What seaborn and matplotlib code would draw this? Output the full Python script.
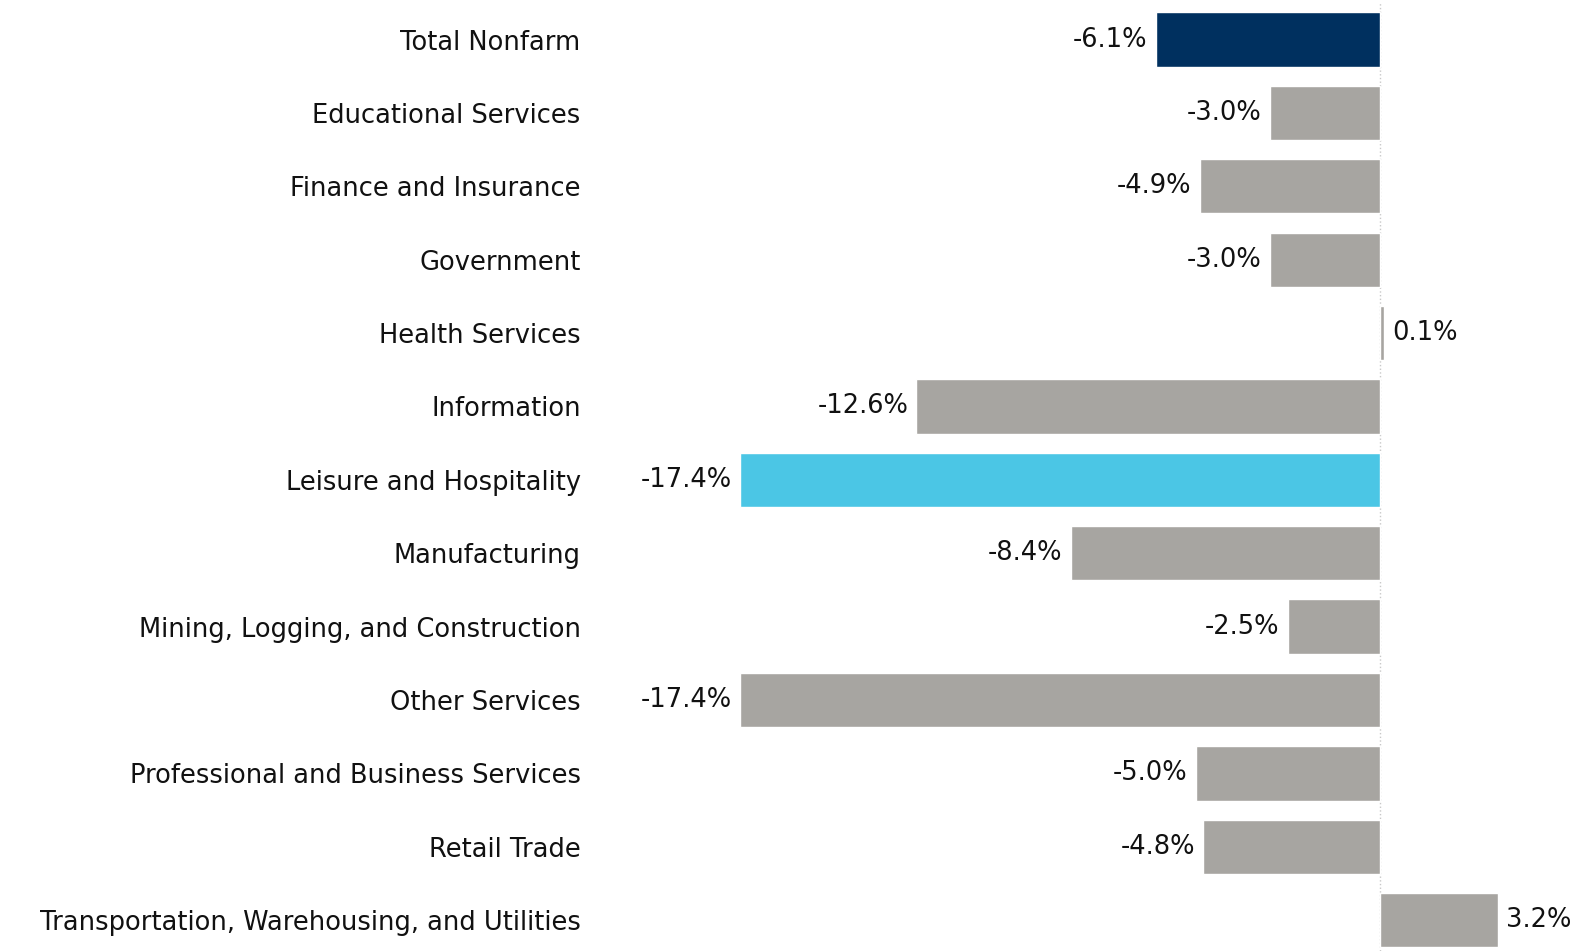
import matplotlib.pyplot as plt
import seaborn as sns
import pandas as pd

# Datos
categorias = [
    'Total Nonfarm', 'Educational Services', 'Finance and Insurance', 'Government',
    'Health Services', 'Information', 'Leisure and Hospitality', 'Manufacturing',
    'Mining, Logging, and Construction', 'Other Services',
    'Professional and Business Services', 'Retail Trade',
    'Transportation, Warehousing, and Utilities',
]
cambio = [-6.1, -3.0, -4.9, -3.0, 0.1, -12.6, -17.4, -8.4, -2.5, -17.4, -5.0, -4.8, 3.2]

azul = '#00305f'
cian = '#4bc6e5'
gris = '#a7a5a1'
colores = [azul if c == 'Total Nonfarm' else cian if c == 'Leisure and Hospitality' else gris
           for c in categorias]

df = pd.DataFrame({'Categoria': categorias, 'Cambio': cambio})

sns.set_style('white')
plt.rcParams['font.family'] = ['DejaVu Sans']

fig = plt.figure(figsize=(15.75, 9.51), dpi=100)
ax = fig.add_axes([0.381, 0.0, 0.619, 0.997])

ax.axvline(0, color='#c8c8c8', linestyle=':', linewidth=1, zorder=0)
sns.barplot(data=df, y='Categoria', x='Cambio', hue='Categoria', palette=colores,
            legend=False, width=0.74, saturation=1, ax=ax, zorder=2)

for cont in ax.containers:
    ax.bar_label(cont, fmt='%.1f%%', padding=6, fontsize=18.5, color='#111111')

ax.set_xlim(-21.2, 5.3)
ax.set_ylim(12.42, -0.5)
ax.set_xlabel('')
ax.set_ylabel('')
ax.set_xticks([])
ax.tick_params(axis='y', length=0, pad=14, labelsize=18.5, labelcolor='#111111')
for s in ax.spines.values():
    s.set_visible(False)

plt.savefig('out.png', dpi=100)
plt.close()
